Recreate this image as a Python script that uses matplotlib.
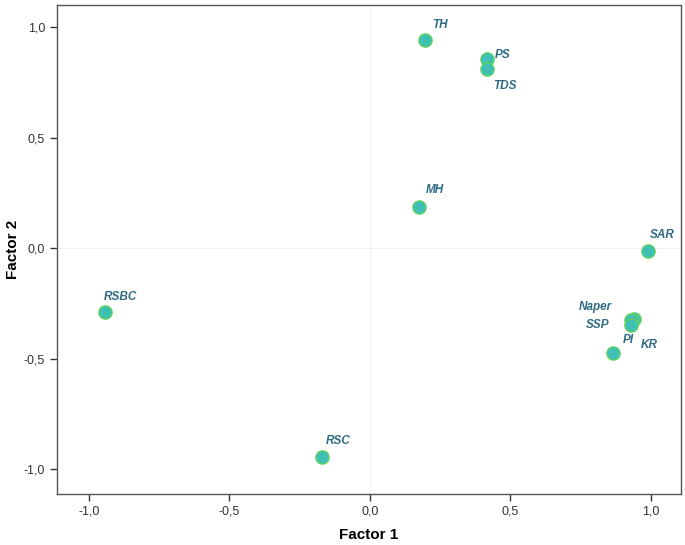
import numpy as np
import matplotlib.pyplot as plt
from matplotlib.ticker import FuncFormatter

plt.rcParams['font.family'] = ['Liberation Sans', 'DejaVu Sans']

names = ["TH", "PS", "TDS", "MH", "SAR", "Naper", "KR", "SSP", "PI", "RSBC", "RSC"]
factor1 = [0.196, 0.416, 0.416, 0.174, 0.989, 0.940, 0.928, 0.929, 0.865, -0.943, -0.171]
factor2 = [0.941, 0.855, 0.810, 0.186, -0.014, -0.321, -0.324, -0.348, -0.475, -0.290, -0.946]
# label offsets in pixels (dx, dy)
offsets = {"TH": (15, 15), "PS": (16, 4), "TDS": (18, -17), "MH": (16, 17),
           "SAR": (15, 16), "Naper": (-39, 12), "KR": (19, -25), "SSP": (-33, 0),
           "PI": (15, 13), "RSBC": (15, 15), "RSC": (16, 16)}

fig = plt.figure(figsize=(6.85, 5.45), dpi=100)
ax = fig.add_axes([0.0832, 0.0936, 0.9108, 0.8972])

ax.axhline(0, color='#f0f0f0', lw=0.8, zorder=0)
ax.axvline(0, color='#f0f0f0', lw=0.8, zorder=0)

ax.scatter(factor1, factor2, s=90, c='#3fbfb5', edgecolors='#5fd35f', linewidths=1.0, zorder=3)

for n, x, y in zip(names, factor1, factor2):
    dx, dy = offsets[n]
    ax.annotate(n, (x, y), xytext=(dx, dy), textcoords='offset pixels',
                ha='center', va='center', fontsize=8.5, fontweight='bold',
                fontstyle='italic', color='#2f6b84', zorder=4)

ax.set_xlim(-1.114, 1.107)
ax.set_ylim(-1.113, 1.10)
ax.set_xticks([-1.0, -0.5, 0.0, 0.5, 1.0])
ax.set_yticks([-1.0, -0.5, 0.0, 0.5, 1.0])
fmt = FuncFormatter(lambda v, p: f"{v:.1f}".replace('.', ','))
ax.xaxis.set_major_formatter(fmt)
ax.yaxis.set_major_formatter(fmt)
ax.tick_params(direction='out', length=5, width=1, colors='#333333', labelsize=9)

for sp in ax.spines.values():
    sp.set_color('#555555')
    sp.set_linewidth(1.0)

ax.set_xlabel("Factor 1", fontsize=11, fontweight='bold', labelpad=7)
ax.set_ylabel("Factor 2", fontsize=11, fontweight='bold', labelpad=3)

fig.savefig("out.png", dpi=100)
